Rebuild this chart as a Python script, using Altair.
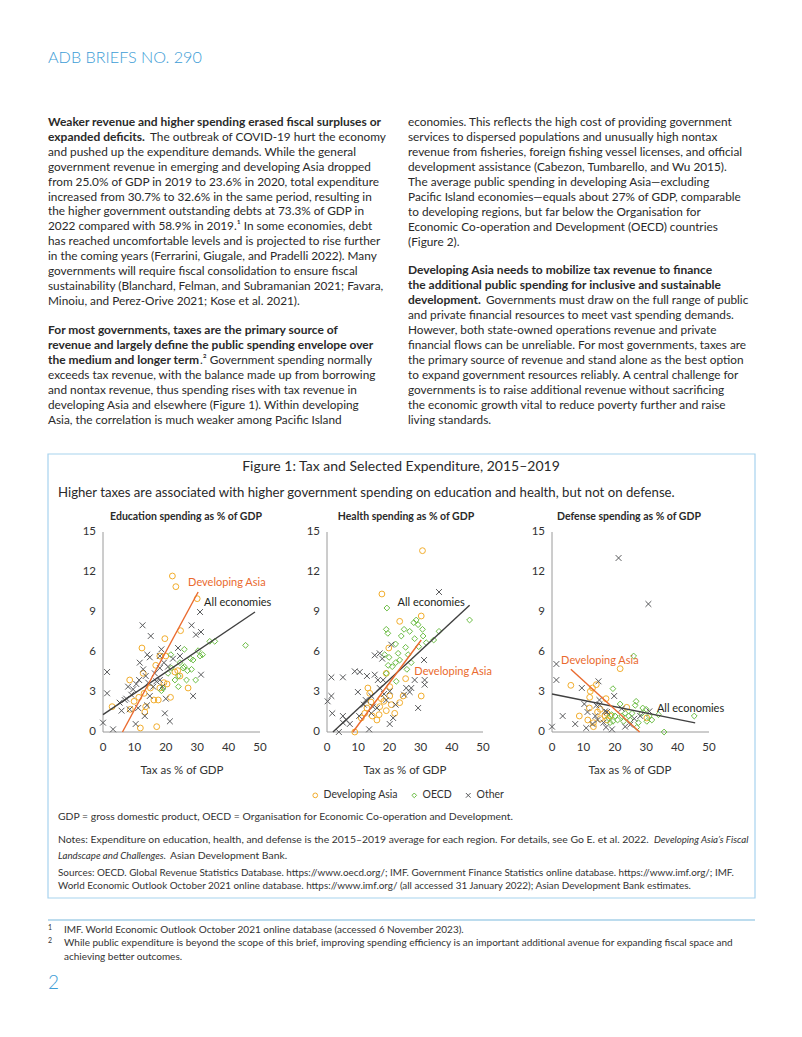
import altair as alt
import pandas as pd

FONT = "Lato"
M = 8                      # page margin of the html body
W, H = 786, 1021           # chart size (page minus margins)
BLUE = "#3d9dd6"
TXT = "#2a2a2a"
GRAY = "#333333"

# ------------------------------------------------------------------ data
groups = ["Developing Asia", "OECD", "Other"]
group_colors = ["#f2ad2c", "#6cbd45", "#58595b"]
group_shapes = ["circle", "diamond", "M-1,-1L1,1M-1,1L1,-1"]

# Education
edu_asia_tax = [22.1, 23.2, 30.0, 24.7, 19.7, 12.4, 16.8, 8.5, 19.4, 20.4, 27.1, 24.5, 23.8, 2.9, 8.7, 13.6,
                13.3, 16.2, 17.6, 21.5, 11.9, 17.1, 13.1, 15.1, 18.1, 20.0, 18.1, 22.9, 12.8, 11.4, 9.9]
edu_asia_val = [11.7, 10.9, 10.0, 7.6, 7.0, 6.3, 5.0, 3.9, 3.7, 3.6, 3.3, 4.2, 4.6, 1.9, 1.7, 1.9,
                1.5, 2.4, 2.4, 2.6, 0.3, 0.4, 2.9, 3.3, 3.3, 5.7, 5.7, 4.5, 4.4, 2.6, 2.3]
edu_oecd_tax = [45.4, 34.0, 35.6, 30.3, 31.7, 25.9, 21.6, 24.5, 25.9, 27.9, 28.7, 21.8, 22.9, 24.0, 26.9, 28.2,
                29.5, 26.6, 19.1, 18.6, 30.9, 24.0, 25.5, 20.7]
edu_oecd_val = [6.5, 6.8, 6.8, 6.1, 5.8, 6.2, 5.8, 5.2, 4.9, 5.5, 5.4, 4.8, 3.9, 4.2, 4.6, 4.7,
                3.9, 3.9, 3.3, 3.1, 5.7, 3.4, 4.8, 4.4]
edu_other_tax = [1.3, 1.3, 0.0, 3.2, 12.6, 15.2, 30.9, 28.2, 31.2, 29.6, 23.9, 18.6, 14.1, 14.9, 18.1, 31.2,
                 28.7, 19.7, 21.3, 10.4, 7.4, 5.3, 5.9, 9.6, 10.6, 11.5, 12.8, 13.6, 14.4, 16.0, 17.0, 16.5,
                 18.1, 19.4, 20.7, 22.3, 24.5, 8.5, 13.3, 14.0, 11.2, 9.0, 14.9, 18.1, 18.9, 8.0, 6.9, 20.0, 11.7]
edu_other_val = [4.5, 2.9, 0.7, 0.2, 8.0, 7.2, 9.0, 8.0, 7.5, 7.3, 6.3, 6.2, 5.8, 5.6, 5.7, 4.3,
                 2.7, 1.4, 0.8, 0.6, 2.5, 2.2, 1.6, 3.2, 3.6, 3.9, 4.7, 4.2, 3.7, 3.4, 3.8, 4.4,
                 4.8, 5.2, 4.9, 5.5, 5.7, 1.7, 1.2, 2.0, 1.8, 2.8, 2.7, 3.9, 3.4, 3.4, 2.4, 2.5, 5.2]

# Health
hea_asia_tax = [30.6, 17.6, 23.3, 30.2, 19.8, 25.2, 30.2, 19.0, 13.1, 13.7, 17.4, 20.1, 20.6, 21.7, 19.0,
                16.7, 16.0, 14.5, 12.8, 12.1, 11.0, 8.9, 23.3, 24.4, 16.9, 18.2, 14.1, 20.1]
hea_asia_val = [13.6, 10.35, 8.3, 8.7, 6.3, 4.0, 2.7, 4.4, 3.3, 2.9, 2.5, 2.7, 2.05, 1.4, 1.6,
                1.3, 0.9, 1.2, 1.8, 1.4, 1.05, 0.0, 2.2, 2.7, 1.9, 2.3, 2.25, 3.4]
hea_oecd_tax = [45.7, 28.6, 27.8, 29.2, 30.6, 35.9, 19.0, 19.5, 24.7, 26.5, 19.2, 23.8, 30.8, 28.1, 22.0,
                29.4, 31.8, 25.2, 22.8, 18.5, 19.9, 26.0, 22.0, 20.9, 19.6, 23.3, 27.0, 25.6, 19.0, 22.2, 34.2]
hea_oecd_val = [8.4, 8.4, 8.2, 8.05, 7.7, 7.55, 7.7, 7.4, 7.7, 7.55, 9.3, 7.2, 7.2, 7.0, 6.6,
                6.4, 6.7, 6.35, 5.9, 5.8, 5.6, 5.8, 5.2, 4.9, 5.0, 5.4, 5.2, 4.7, 4.4, 3.8, 6.9]
hea_other_tax = [35.9, 1.4, 5.1, 8.9, 10.5, 12.8, 15.3, 15.3, 16.9, 17.7, 20.6, 1.4, 0.2, 1.7, 3.8,
                 5.1, 6.2, 7.3, 5.1, 9.9, 10.3, 13.5, 20.1, 21.2, 29.2, 31.3, 31.3, 31.1, 25.4, 26.5,
                 24.7, 22.0, 16.9, 16.3, 18.0, 20.1, 14.2, 12.4, 11.8, 14.7, 14.2, 16.0, 18.3, 19.0, 27.0, 28.1]
hea_other_val = [10.5, 4.1, 4.1, 4.55, 4.5, 4.2, 4.3, 5.75, 5.9, 5.5, 6.55, 2.7, 2.3, 1.4, 0.0,
                 0.7, 0.9, 0.6, 1.2, 3.0, 1.2, 0.2, 0.6, 1.05, 1.8, 3.9, 3.55, 5.4, 3.3, 3.0,
                 2.8, 2.05, 3.3, 3.9, 3.9, 3.05, 2.7, 2.4, 2.05, 1.9, 1.4, 1.8, 2.85, 2.4, 3.3, 3.9]

# Defense
def_asia_tax = [21.7, 6.0, 12.2, 14.1, 12.9, 12.0, 17.2, 11.9, 14.5, 15.4, 18.5, 16.9, 17.5, 8.7, 11.4,
                13.2, 13.2, 23.8, 30.2, 15.4, 17.5]
def_asia_val = [4.75, 3.5, 3.05, 3.55, 3.3, 2.6, 2.5, 1.8, 1.5, 1.7, 1.2, 1.2, 0.9, 1.2, 0.9,
                0.7, 0.4, 1.85, 1.05, 1.0, 1.4]
def_oecd_tax = [26.0, 19.4, 45.3, 35.7, 26.8, 21.7, 26.5, 28.9, 30.0, 28.6, 31.8, 30.2, 27.5, 27.0,
                23.3, 24.4, 22.8, 20.9, 19.4, 18.5, 18.0, 20.1, 22.2, 24.9, 33.9, 31.0, 25.5, 19.0]
def_oecd_val = [5.7, 3.25, 1.2, 0.0, 2.3, 2.1, 2.0, 1.8, 1.7, 1.4, 0.9, 0.8, 0.7, 0.35,
                1.4, 1.2, 0.8, 0.9, 0.8, 0.7, 1.05, 1.2, 1.2, 0.9, 1.3, 1.2, 1.4, 1.3]
def_other_tax = [21.2, 30.7, 1.4, 1.4, 3.4, 0.0, 7.4, 9.5, 14.8, 10.3, 11.3, 10.9, 14.1, 15.1, 13.8,
                 14.5, 12.9, 16.9, 17.5, 19.8, 17.2, 19.1, 22.2, 23.3, 24.9, 26.2, 28.1, 31.0, 15.1, 16.4]
def_other_val = [13.05, 9.6, 5.1, 3.9, 1.2, 0.4, 0.6, 3.3, 3.8, 2.1, 1.5, 0.3, 2.0, 2.05, 1.2,
                 0.9, 0.6, 1.55, 1.5, 2.7, 0.35, 0.2, 1.75, 0.4, 0.55, 1.0, 1.2, 1.55, 2.4, 0.7]

# Fitted lines (end points)
edu_asia_line = ([6.2, 30.3], [0.0, 10.5])
edu_all_line = ([0.0, 48.4], [1.3, 9.0])
hea_asia_line = ([8.3, 30.2], [0.0, 6.9])
hea_all_line = ([1.9, 45.7], [0.0, 9.5])
def_asia_line = ([6.0, 27.9], [4.7, 0.0])
def_all_line = ([0.0, 45.6], [2.85, 0.68])

# Line label anchors (tax, value)
edu_labels = [(27.1, 11.15, "Developing Asia"), (32.2, 9.65, "All economies")]
hea_labels = [(28.0, 4.5, "Developing Asia"), (22.6, 9.65, "All economies")]
def_labels = [(2.9, 5.3, "Developing  Asia"), (33.4, 1.7, "All economies")]

x_ticks = [0, 10, 20, 30, 40, 50]
y_ticks = [0, 3, 6, 9, 12, 15]

panel_titles = ["Education spending as % of GDP", "Health spending as % of GDP",
                "Defense spending as % of GDP"]

# ------------------------------------------------------------------ text
header = "ADB BRIEFS NO. 290"

left_par1 = [
    "and pushed up the expenditure demands. While the general",
    "government revenue in emerging and developing Asia dropped",
    "from 25.0% of GDP in 2019 to 23.6% in 2020, total expenditure",
    "increased from 30.7% to 32.6% in the same period, resulting in",
    "the higher government outstanding debts at 73.3% of GDP in",
    "2022 compared with 58.9% in 2019.\u00b9 In some economies, debt",
    "has reached uncomfortable levels and is projected to rise further",
    "in the coming years (Ferrarini, Giugale, and Pradelli 2022). Many",
    "governments will require fiscal consolidation to ensure fiscal",
    "sustainability (Blanchard, Felman, and Subramanian 2021; Favara,",
    "Minoiu, and Perez-Orive 2021; Kose et al. 2021).",
]
left_par2 = [
    "exceeds tax revenue, with the balance made up from borrowing",
    "and nontax revenue, thus spending rises with tax revenue in",
    "developing Asia and elsewhere (Figure 1). Within developing",
    "Asia, the correlation is much weaker among Pacific Island",
]
right_par1 = [
    "economies. This reflects the high cost of providing government",
    "services to dispersed populations and unusually high nontax",
    "revenue from fisheries, foreign fishing vessel licenses, and official",
    "development assistance (Cabezon, Tumbarello, and Wu 2015).",
    "The average public spending in developing Asia\u2014excluding",
    "Pacific Island economies\u2014equals about 27% of GDP, comparable",
    "to developing regions, but far below the Organisation for",
    "Economic Co-operation and Development (OECD) countries",
    "(Figure 2).",
]
right_par2 = [
    "and private financial resources to meet vast spending demands.",
    "However, both state-owned operations revenue and private",
    "financial flows can be unreliable. For most governments, taxes are",
    "the primary source of revenue and stand alone as the best option",
    "to expand government resources reliably. A central challenge for",
    "governments is to raise additional revenue without sacrificing",
    "the economic growth vital to reduce poverty further and raise",
    "living standards.",
]

fig_title = "Figure 1: Tax and Selected Expenditure, 2015\u20132019"
fig_subtitle = ("Higher taxes are associated with higher government spending on education and health, "
                "but not on defense.")
note_gdp = "GDP = gross domestic product, OECD = Organisation for Economic Co-operation and Development."
note_1a = ("Notes: Expenditure on education, health, and defense is the 2015\u20132019 average for each region. "
           "For details, see Go E. et al. 2022.")
note_1b = "Developing Asia\u2019s Fiscal"
note_2a = "Landscape and Challenges."
note_2b = "Asian Development Bank."
src_1 = ("Sources: OECD. Global Revenue Statistics Database. https://www.oecd.org/; IMF. Government Finance "
         "Statistics online database. https://www.imf.org/; IMF.")
src_2 = ("World Economic Outlook October 2021 online database. https://www.imf.org/ (all accessed 31 January "
         "2022); Asian Development Bank estimates.")
fn_1 = "IMF. World Economic Outlook October 2021 online database (accessed 6 November 2023)."
fn_2a = ("While public expenditure is beyond the scope of this brief, improving spending efficiency is an "
         "important additional avenue for expanding fiscal space and")
fn_2b = "achieving better outcomes."


# ------------------------------------------------------------------ helpers
def text_layer(items, size, color=TXT, weight="normal", style="normal", align="left", font=FONT):
    df = pd.DataFrame({"x": [i[0] - M for i in items],
                       "y": [i[1] - M for i in items],
                       "t": [i[2] for i in items]})
    return alt.Chart(df).mark_text(
        align=align, baseline="middle", font=font, fontSize=size, fontWeight=weight,
        fontStyle=style, color=color
    ).encode(
        x=alt.X("x:Q", scale=None, axis=None),
        y=alt.Y("y:Q", scale=None, axis=None),
        text="t:N",
    )


Y0, Y15 = 732, 532


def panel(idx, x0, x1, asia, oecd, other, asia_line, all_line, labels):
    xs = alt.Scale(domain=[0, 50], range=[x0 - M, x1 - M], nice=False, zero=False)
    ys = alt.Scale(domain=[0, 15], range=[Y0 - M, Y15 - M], nice=False, zero=False)

    rows = []
    for g, (tx, vv) in zip(groups, [asia, oecd, other]):
        for a, b in zip(tx, vv):
            rows.append({"tax": a, "val": b, "group": g})
    pts = pd.DataFrame(rows)

    if idx == 0:
        leg = alt.Legend(orient="none", legendX=302, legendY=782, direction="horizontal", title=None,
                         labelFont=FONT, labelFontSize=10.5, labelColor=GRAY, symbolSize=22,
                         symbolStrokeWidth=1, columnPadding=11, labelOffset=3, padding=0)
    else:
        leg = None

    points = alt.Chart(pts).mark_point(filled=False, size=34, strokeWidth=1, opacity=1).encode(
        x=alt.X("tax:Q", scale=xs, axis=None),
        y=alt.Y("val:Q", scale=ys, axis=None),
        color=alt.Color("group:N", scale=alt.Scale(domain=groups, range=group_colors), legend=leg),
        shape=alt.Shape("group:N", scale=alt.Scale(domain=groups, range=group_shapes), legend=leg),
    )

    def fit_line(line, color):
        df = pd.DataFrame({"tax": line[0], "val": line[1]})
        return alt.Chart(df).mark_line(color=color, strokeWidth=1.4).encode(
            x=alt.X("tax:Q", scale=xs, axis=None), y=alt.Y("val:Q", scale=ys, axis=None))

    l_all = fit_line(all_line, "#404040")
    l_asia = fit_line(asia_line, "#ea6a2e")

    lab_df = pd.DataFrame({"tax": [l[0] for l in labels], "val": [l[1] for l in labels],
                           "t": [l[2] for l in labels], "c": ["#ea6a2e", "#231f20"]})
    lab = alt.Chart(lab_df).mark_text(align="left", baseline="middle", font=FONT, fontSize=11).encode(
        x=alt.X("tax:Q", scale=xs, axis=None), y=alt.Y("val:Q", scale=ys, axis=None),
        text="t:N", color=alt.Color("c:N", scale=None, legend=None))

    # axes
    ax_df = pd.DataFrame({"a": [0], "b": [15], "c": [0], "d": [50]})
    y_dom = alt.Chart(ax_df).mark_rule(color="#9a9a9a", strokeWidth=1).encode(
        x=alt.value(x0 - M), y=alt.Y("a:Q", scale=ys, axis=None), y2="b:Q")
    x_dom = alt.Chart(ax_df).mark_rule(color="#9a9a9a", strokeWidth=1).encode(
        y=alt.value(Y0 - M), x=alt.X("c:Q", scale=xs, axis=None), x2="d:Q")
    yt = alt.Chart(pd.DataFrame({"v": y_ticks})).mark_text(
        align="right", baseline="middle", font=FONT, fontSize=11.5, color=GRAY).encode(
        x=alt.value(x0 - M - 7), y=alt.Y("v:Q", scale=ys, axis=None), text="v:Q")
    xt = alt.Chart(pd.DataFrame({"v": x_ticks})).mark_text(
        align="center", baseline="middle", font=FONT, fontSize=11.5, color=GRAY).encode(
        y=alt.value(748 - M), x=alt.X("v:Q", scale=xs, axis=None), text="v:Q")
    return alt.layer(y_dom, x_dom, yt, xt, points, l_all, l_asia, lab)


p1 = panel(0, 103, 260, (edu_asia_tax, edu_asia_val), (edu_oecd_tax, edu_oecd_val),
           (edu_other_tax, edu_other_val), edu_asia_line, edu_all_line, edu_labels)
p2 = panel(1, 327, 483, (hea_asia_tax, hea_asia_val), (hea_oecd_tax, hea_oecd_val),
           (hea_other_tax, hea_other_val), hea_asia_line, hea_all_line, hea_labels)
p3 = panel(2, 552, 709, (def_asia_tax, def_asia_val), (def_oecd_tax, def_oecd_val),
           (def_other_tax, def_other_val), def_asia_line, def_all_line, def_labels)

# ------------------------------------------------------------------ page furniture
one = pd.DataFrame({"k": [0]})
box = alt.Chart(one).mark_rect(fillOpacity=0, stroke="#a7d3ee", strokeWidth=1.2).encode(
    x=alt.value(48 - M), x2=alt.value(755 - M), y=alt.value(454 - M), y2=alt.value(898 - M))
fn_rule = alt.Chart(one).mark_rule(color="#bcdcee", strokeWidth=2).encode(
    x=alt.value(48 - M), x2=alt.value(755 - M), y=alt.value(920 - M))

BODY = 11.8
layers = [box, fn_rule]
layers.append(text_layer([(48, 58, header)], 16.2, color=BLUE, weight=300))

# body text
left_y1 = [152 + 14.85 * i for i in range(len(left_par1))]
layers.append(text_layer([(48, 122, "Weaker revenue and higher spending erased fiscal surpluses or"),
                          (48, 137, "expanded deficits."),
                          (48, 330, "For most governments, taxes are the primary source of"),
                          (48, 345, "revenue and largely define the public spending envelope over"),
                          (48, 360, "the medium and longer term"),
                          (408, 270, "Developing Asia needs to mobilize tax revenue to finance"),
                          (408, 285, "the additional public spending for inclusive and sustainable"),
                          (408, 300, "development.")], 12, weight="bold"))
reg = [(150, 137, "The outbreak of COVID-19 hurt the economy"),
       (200, 360, ".\u00b2 Government spending normally"),
       (486, 300, "Governments must draw on the full range of public")]
reg += [(48, y, t) for y, t in zip(left_y1, left_par1)]
reg += [(48, 375 + 15 * i, t) for i, t in enumerate(left_par2)]
reg += [(408, 122 + 15 * i, t) for i, t in enumerate(right_par1)]
reg += [(408, 315 + 15 * i, t) for i, t in enumerate(right_par2)]
layers.append(text_layer(reg, BODY))

# figure texts
layers.append(text_layer([(401, 467, fig_title)], 14, align="center"))
layers.append(text_layer([(58, 493, fig_subtitle)], 13.2))
layers.append(text_layer([(186, 517, panel_titles[0]), (406, 517, panel_titles[1]),
                          (629, 517, panel_titles[2])], 10.5, weight="bold", align="center"))
layers.append(text_layer([(182, 771, "Tax as % of GDP"), (405, 771, "Tax as % of GDP"),
                          (630, 771, "Tax as % of GDP")], 11.5, color=GRAY, align="center"))

layers += [p1, p2, p3]

layers.append(text_layer([(58, 817, note_gdp), (58, 840, note_1a), (170, 856, note_2b)], 10.4, color=GRAY))
layers.append(text_layer([(58, 873, src_1), (58, 886, src_2)], 9.9, color=GRAY))
layers.append(text_layer([(654, 840, note_1b), (58, 856, note_2a)], 9.7, color=GRAY, style="italic"))

# footnotes
layers.append(text_layer([(48, 928, "1"), (48, 941, "2")], 7, color=GRAY))
layers.append(text_layer([(64, 930, fn_1), (64, 943, fn_2a), (64, 957, fn_2b)], 10, color=GRAY))
layers.append(text_layer([(48, 983, "2")], 19, color=BLUE, weight=300))

chart = alt.layer(*layers).resolve_scale(x="independent", y="independent").properties(
    width=W, height=H, padding=0, background="white"
).configure_view(stroke=None)

chart.save("out.html", embed_options={"renderer": "svg", "actions": False})
